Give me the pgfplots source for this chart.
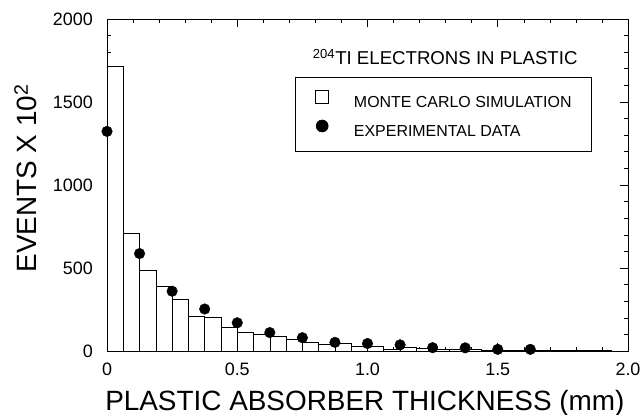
\documentclass[border=0pt]{standalone}
\usepackage{fontspec}
\setmainfont{Liberation Sans}
\usepackage{pgfplots}
\pgfplotsset{compat=1.18}
\begin{document}
\begin{tikzpicture}
\begin{axis}[
  name=ax,
  width=521bp, height=332bp, scale only axis,
  xmin=0, xmax=2, ymin=0, ymax=2000,
  xtick={0,0.5,1,1.5,2}, xticklabels={0,0.5,1.0,1.5,2.0},
  ytick={0,500,1000,1500,2000}, yticklabels={0,500,1000,1500,2000},
  minor x tick num=4, minor y tick num=4,
  tick align=inside,
  major tick length=8bp, minor tick length=4.5bp,
  every tick/.style={black, line width=0.6bp},
  axis line style={line width=0.8bp},
  /pgf/number format/assume math mode=true,
  yticklabel style={font=\fontsize{18}{20}\selectfont, inner sep=0pt, xshift=-14bp},
  xticklabel style={font=\fontsize{18}{20}\selectfont, inner sep=0pt, yshift=-12bp},
  xlabel={PLASTIC ABSORBER THICKNESS (mm)},
  ylabel={EVENTS X 10\textsuperscript{2}},
  label style={font=\fontsize{28}{31}\selectfont},
  xlabel style={at={(axis description cs:0.495,-0.179)}, anchor=base, inner sep=0pt},
  ylabel style={at={(axis description cs:-0.1344,0.52)}, anchor=base, inner sep=0pt},
  legend style={at={(axis description cs:0.361,0.826)}, anchor=north west,
    draw=black, line width=0.6bp, fill=white,
    inner xsep=20bp, inner ysep=13bp, row sep=11bp,
    font=\fontsize{16}{19}\selectfont, nodes={inner sep=0pt},
    /tikz/every odd column/.append style={column sep=25bp}},
  legend cell align=left,
]
\addplot[ybar interval, fill=white, draw=black, line width=0.6bp,
  legend image code/.code={\draw[black, fill=white, line width=0.6bp] (0bp,-0.5bp) rectangle (13bp,12bp);}]
coordinates {
(0,1715) (0.0625,707) (0.125,486) (0.1875,390) (0.25,310) (0.3125,211)
(0.375,201) (0.4375,141) (0.5,115) (0.5625,99) (0.625,91) (0.6875,70)
(0.75,52) (0.8125,38) (0.875,48) (0.9375,30) (1.0,30) (1.0625,12)
(1.125,20) (1.1875,15) (1.25,12) (1.3125,8) (1.375,10) (1.4375,6)
(1.5,5) (1.5625,5) (1.625,4) (1.6875,3) (1.75,3) (1.8125,2)
(1.875,2) (1.9375,1) (2.0,1)
};
\addlegendentry{MONTE CARLO SIMULATION}
\addplot[only marks, mark=*, mark size=5.3bp, black,
  legend image code/.code={\fill[black] (6.5bp,5.8bp) circle (6bp);}]
coordinates {
(0,1323) (0.125,587) (0.25,360) (0.375,253) (0.5,170) (0.625,111)
(0.75,80) (0.875,52) (1.0,45) (1.125,37) (1.25,20) (1.375,19)
(1.5,10) (1.625,10)
};
\addlegendentry{EXPERIMENTAL DATA}
\node[anchor=base west, inner sep=0pt, font=\fontsize{18.7}{21}\selectfont]
  at (axis description cs:0.395,0.863) {\textsuperscript{204}TI ELECTRONS IN PLASTIC};
\end{axis}
\pgfresetboundingbox
\path[use as bounding box] ([shift={(-107bp,-64bp)}]ax.south west) rectangle ([shift={(12bp,19bp)}]ax.north east);
\end{tikzpicture}
\end{document}
